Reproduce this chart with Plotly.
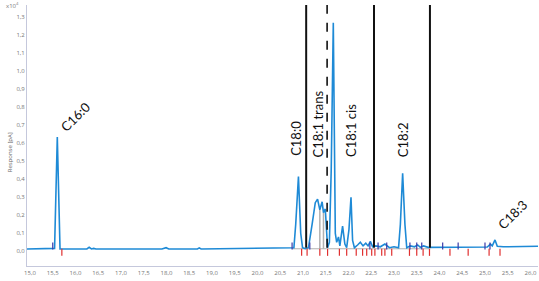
import plotly.graph_objects as go

# ---- Chromatogram trace (retention time [min], response x10^4 [pA]) ----
rt = [14.93, 15.50, 15.54, 15.60, 15.66, 16.25, 16.30, 16.35, 16.40, 16.45,
      17.90, 17.99, 18.05, 18.68, 18.72, 18.76, 20.00, 20.70, 20.80, 20.84,
      20.90, 20.95, 20.99, 21.05, 21.12, 21.20, 21.27, 21.32, 21.37, 21.42,
      21.45, 21.49, 21.52, 21.54, 21.58, 21.62, 21.666, 21.71, 21.74, 21.78,
      21.81, 21.87, 21.92, 21.96, 22.01, 22.055, 22.09, 22.13, 22.20, 22.26,
      22.32, 22.38, 22.43, 22.48, 22.53, 22.60, 22.70, 22.80, 22.90, 23.00,
      23.10, 23.14, 23.19, 23.24, 23.28, 23.36, 23.45, 23.52, 23.58, 23.65,
      23.75, 24.00, 24.40, 24.80, 25.05, 25.12, 25.16, 25.22, 25.27, 25.40,
      26.17]
resp = [0.013, 0.013, 0.016, 0.635, 0.013, 0.013, 0.022, 0.013, 0.016, 0.013,
        0.013, 0.020, 0.013, 0.013, 0.019, 0.013, 0.015, 0.017, 0.020, 0.150,
        0.415, 0.100, 0.020, 0.015, 0.020, 0.150, 0.270, 0.290, 0.230, 0.275,
        0.215, 0.235, 0.060, 0.020, 0.050, 0.450, 1.270, 0.100, 0.050, 0.080,
        0.030, 0.140, 0.040, 0.020, 0.120, 0.300, 0.060, 0.020, 0.035, 0.050,
        0.030, 0.045, 0.030, 0.055, 0.025, 0.030, 0.025, 0.040, 0.020, 0.025,
        0.020, 0.150, 0.433, 0.150, 0.020, 0.030, 0.025, 0.035, 0.022, 0.030,
        0.022, 0.022, 0.022, 0.022, 0.024, 0.040, 0.030, 0.063, 0.028, 0.025,
        0.028]

# integration drop lines (grey)
drop_x = [21.37, 21.45]
drop_top = [0.23, 0.215]

# integration markers
red_ticks = [15.70, 20.97, 21.09, 21.37, 21.54, 21.80, 21.96, 22.17, 22.31, 22.40,
             22.51, 22.58, 22.73, 22.80, 22.95, 23.34, 23.50, 23.64, 23.78, 24.23,
             24.63, 25.09, 25.33]
blue_ticks = [15.50, 20.76, 21.15, 22.47, 22.65, 22.84, 23.35, 23.50, 23.61,
              24.07, 24.41, 25.00, 25.11]

# fraction boundary lines
bound_x = [21.07, 21.53, 22.56, 23.79]
bound_dash = ["solid", "dash", "solid", "solid"]

# peak labels
labels = ["C16:0", "C18:0", "C18:1 trans", "C18:1 cis", "C18:2", "C18:3"]
label_x = [15.99, 20.86, 21.34, 22.055, 23.20, 25.615]
label_y = [0.746, 0.628, 0.707, 0.668, 0.618, 0.207]
label_angle = [-45, -90, -90, -90, -90, -45]

y_ticks = [round(0.1 * i, 1) for i in range(14)]
x_ticks = [15.0 + 0.5 * i for i in range(23)]

fig = go.Figure()

# grey integration baseline and drops
fig.add_trace(go.Scatter(x=[20.76, 23.80], y=[0.014, 0.014], mode="lines",
                         line=dict(color="#b0b0b0", width=1), hoverinfo="skip"))
for dx, dt in zip(drop_x, drop_top):
    fig.add_trace(go.Scatter(x=[dx, dx], y=[0.014, dt], mode="lines",
                             line=dict(color="#b0b0b0", width=1.5), hoverinfo="skip"))

fig.add_trace(go.Scatter(x=rt, y=resp, mode="lines",
                         line=dict(color="#1e8ad6", width=1.6)))

fig.add_trace(go.Scatter(x=blue_ticks, y=[0.03] * len(blue_ticks), mode="markers",
                         marker=dict(symbol="line-ns", size=5,
                                     line=dict(color="#3a3aa8", width=1.2))))
fig.add_trace(go.Scatter(x=red_ticks, y=[-0.006] * len(red_ticks), mode="markers",
                         marker=dict(symbol="line-ns", size=5,
                                     line=dict(color="#e03030", width=1.2))))

for bx, bd in zip(bound_x, bound_dash):
    fig.add_shape(type="line", x0=bx, x1=bx, y0=0.02, y1=1.37, xref="x", yref="y",
                  line=dict(color="#111111", width=2 if bd == "solid" else 1.6, dash=bd))

for t, lx, ly, a in zip(labels, label_x, label_y, label_angle):
    fig.add_annotation(x=lx, y=ly, text=t, textangle=a, showarrow=False,
                       font=dict(family="Lato, Open Sans, sans-serif", size=13, color="#111111"))

fig.add_annotation(x=21.6, y=-0.1, xref="x", yref="y", text="Retention time [min]",
                   showarrow=False, yanchor="top",
                   font=dict(family="Open Sans, sans-serif", size=6, color="#666666"))
fig.add_annotation(x=-0.045, y=0.55, xref="paper", yref="y", text="Response [pA]",
                   textangle=-90, showarrow=False,
                   font=dict(family="Open Sans, sans-serif", size=6, color="#666666"))
fig.add_annotation(x=-0.012, y=1.0, xref="paper", yref="paper", text="x10<sup>4</sup>",
                   showarrow=False, xanchor="right", yanchor="middle",
                   font=dict(family="Open Sans, sans-serif", size=6, color="#777777"))

fig.update_layout(
    width=539, height=281,
    margin=dict(l=27, r=1, t=5, b=15),
    paper_bgcolor="white", plot_bgcolor="white",
    showlegend=False,
    separators=",.",
    xaxis=dict(range=[14.934, 26.165], tickvals=x_ticks, tickformat=".1f",
               automargin=False, ticklabelstandoff=1,
               showgrid=False, zeroline=False, showline=True, linecolor="#c5c8dc",
               linewidth=1, ticks="", tickfont=dict(size=6, color="#777777",
                                                    family="Open Sans, sans-serif")),
    yaxis=dict(range=[-0.0817, 1.368], tickvals=y_ticks, tickformat=".1f",
               automargin=False,
               showgrid=False, zeroline=False, showline=True, linecolor="#c5c8dc",
               linewidth=1, ticks="", tickfont=dict(size=6, color="#777777",
                                                    family="Open Sans, sans-serif")),
)

fig.write_html("out.html", config={"displayModeBar": False},
               post_script="document.body.style.margin='0';document.body.style.overflow='hidden';")
